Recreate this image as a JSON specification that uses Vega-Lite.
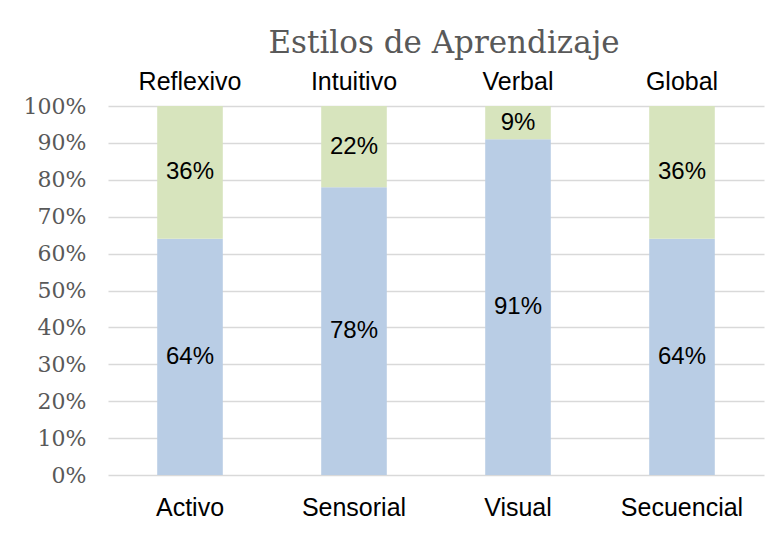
{
  "$schema": "https://vega.github.io/schema/vega-lite/v6.json",
  "width": 656,
  "height": 369,
  "autosize": "none",
  "padding": {"left": 108, "top": 106, "right": 18, "bottom": 58},
  "background": "white",
  "title": {
    "text": "Estilos de Aprendizaje",
    "font": "DejaVu Serif",
    "fontSize": 31,
    "fontWeight": "normal",
    "color": "#595959",
    "anchor": "middle",
    "offset": 9,
    "dx": 8
  },
  "config": {"view": {"stroke": null}},
  "data": {
    "values": [
      {"dimension": "Activo", "polo": "Activo", "orden": 1, "valor": 0.64},
      {"dimension": "Activo", "polo": "Reflexivo", "orden": 2, "valor": 0.36},
      {"dimension": "Sensorial", "polo": "Sensorial", "orden": 1, "valor": 0.78},
      {"dimension": "Sensorial", "polo": "Intuitivo", "orden": 2, "valor": 0.22},
      {"dimension": "Visual", "polo": "Visual", "orden": 1, "valor": 0.91},
      {"dimension": "Visual", "polo": "Verbal", "orden": 2, "valor": 0.09},
      {"dimension": "Secuencial", "polo": "Secuencial", "orden": 1, "valor": 0.64},
      {"dimension": "Secuencial", "polo": "Global", "orden": 2, "valor": 0.36}
    ]
  },
  "layer": [
    {
      "mark": {"type": "bar"},
      "encoding": {
        "x": {
          "field": "dimension",
          "type": "nominal",
          "sort": null,
          "scale": {"paddingInner": 0.6, "paddingOuter": 0.3},
          "axis": {
            "orient": "bottom",
            "title": null,
            "labelAngle": 0,
            "domain": false,
            "ticks": false,
            "labelFont": "Liberation Sans",
            "labelFontSize": 25,
            "labelColor": "#000000",
            "labelPadding": 20
          }
        },
        "y": {
          "field": "valor",
          "type": "quantitative",
          "stack": "zero",
          "scale": {"domain": [0, 1], "nice": false},
          "axis": {
            "title": null,
            "values": [0, 0.1, 0.2, 0.3, 0.4, 0.5, 0.6, 0.7, 0.8, 0.9, 1],
            "format": ".0%",
            "grid": true,
            "gridColor": "#d9d9d9",
            "gridWidth": 1.5,
            "domain": false,
            "ticks": false,
            "labelFont": "DejaVu Serif",
            "labelFontSize": 22,
            "labelColor": "#595959",
            "labelPadding": 22
          }
        },
        "color": {
          "field": "orden",
          "type": "nominal",
          "scale": {"domain": [1, 2], "range": ["#B9CDE5", "#D7E4BD"]},
          "legend": null
        },
        "order": {"field": "orden", "type": "quantitative"}
      }
    },
    {
      "transform": [
        {"stack": "valor", "groupby": ["dimension"], "sort": [{"field": "orden"}], "as": ["y0", "y1"]},
        {"calculate": "(datum.y0 + datum.y1) / 2", "as": "mid"},
        {"calculate": "format(datum.valor, '.0%')", "as": "etiqueta"}
      ],
      "mark": {"type": "text", "font": "Liberation Sans", "fontSize": 24, "color": "#000000", "baseline": "middle"},
      "encoding": {
        "x": {
          "field": "dimension",
          "type": "nominal",
          "sort": null,
          "axis": {
            "orient": "top",
            "title": null,
            "labelAngle": 0,
            "domain": false,
            "ticks": false,
            "labelFont": "Liberation Sans",
            "labelFontSize": 25,
            "labelColor": "#000000",
            "labelPadding": 12,
            "labelExpr": "{'Activo': 'Reflexivo', 'Sensorial': 'Intuitivo', 'Visual': 'Verbal', 'Secuencial': 'Global'}[datum.label]"
          }
        },
        "y": {
          "field": "mid",
          "type": "quantitative",
          "axis": {
            "title": null,
            "values": [0, 0.1, 0.2, 0.3, 0.4, 0.5, 0.6, 0.7, 0.8, 0.9, 1],
            "format": ".0%",
            "grid": true,
            "gridColor": "#d9d9d9",
            "gridWidth": 1.5,
            "domain": false,
            "ticks": false,
            "labelFont": "DejaVu Serif",
            "labelFontSize": 22,
            "labelColor": "#595959",
            "labelPadding": 22
          }
        },
        "text": {"field": "etiqueta"}
      }
    }
  ],
  "resolve": {"axis": {"x": "independent"}}
}
